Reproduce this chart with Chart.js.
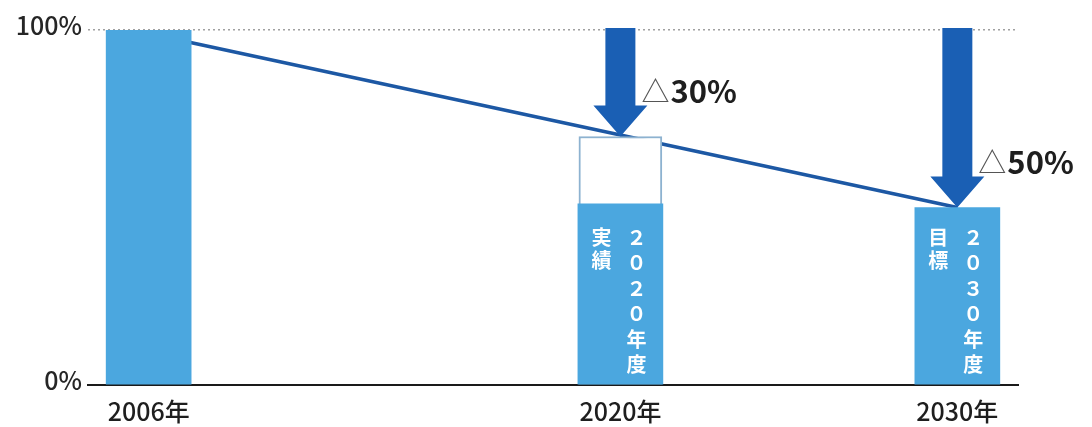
<!DOCTYPE html>
<html lang="ja">
<head>
<meta charset="utf-8">
<title>温室効果ガス削減目標</title>
<script src="https://cdn.jsdelivr.net/npm/chart.js@4.4.1/dist/chart.umd.min.js"></script>
<style>
  html, body { margin: 0; padding: 0; background: #ffffff; }
  #wrap { width: 1092px; height: 427px; }
</style>
</head>
<body>
<div id="wrap"><canvas id="chart" width="1092" height="427"></canvas></div>
<script>
// Years shown on the horizontal axis
const years = [2006, 2020, 2030];

// Solid bars: 2006 baseline, 2020 actual result, 2030 target (% of 2006 level)
const filledYears = [2006, 2020, 2030];
const filledValues = [100, 51, 50];

// Outlined bar: 2020 target
const outlineYears = [2020];
const outlineValues = [70];

// Reduction trend line
const trendYears = [2006, 2030];
const trendValues = [99, 50];

// Reduction arrows from the 100% level down to each target
const reductionYears = [2020, 2030];
const reductionTargets = [70, 50];
const reductionLabels = ['△30%', '△50%'];

// Vertical notes written inside the bars
const noteYears = [2020, 2030];
const noteMain = ['２０２０年度', '２０３０年度'];
const noteSub = ['実績', '目標'];

// Value axis ticks
const yTickValues = [0, 100];

const FONT = "'Noto Sans CJK JP', 'Noto Sans', sans-serif";
const BAR_BLUE = '#4ba7df';
const ARROW_BLUE = '#1a5fb4';

const toPoints = (xs, ys) => xs.map((x, i) => ({ x, y: ys[i] }));

// Draws the downward arrows with their reduction labels
const arrowPlugin = {
  id: 'reductionArrows',
  afterDatasetsDraw(chart) {
    const { ctx, scales: { x, y } } = chart;
    ctx.save();
    reductionYears.forEach((yr, i) => {
      const cx = x.getPixelForValue(yr);
      const top = y.getPixelForValue(100) - 2;
      const tip = y.getPixelForValue(reductionTargets[i]);
      const shaftHalf = 15, headHalf = 27, headLen = 31;
      ctx.fillStyle = ARROW_BLUE;
      ctx.beginPath();
      ctx.moveTo(cx - shaftHalf, top);
      ctx.lineTo(cx + shaftHalf, top);
      ctx.lineTo(cx + shaftHalf, tip - headLen);
      ctx.lineTo(cx + headHalf, tip - headLen);
      ctx.lineTo(cx, tip);
      ctx.lineTo(cx - headHalf, tip - headLen);
      ctx.lineTo(cx - shaftHalf, tip - headLen);
      ctx.closePath();
      ctx.fill();

      // label: thin triangle followed by the bold percentage
      const label = reductionLabels[i];
      const tri = label.charAt(0);
      const rest = label.slice(1);
      const lx = cx + 21;
      const ly = tip - 45;
      ctx.textBaseline = 'middle';
      ctx.textAlign = 'left';
      ctx.font = `400 28px ${FONT}`;
      ctx.fillStyle = '#555555';
      ctx.fillText(tri, lx, ly);
      const tw = ctx.measureText(tri).width;
      ctx.font = `600 31px ${FONT}`;
      ctx.fillStyle = '#1e1e1e';
      ctx.fillText(rest, lx + tw + 1, ly);
    });
    ctx.restore();
  }
};

// Writes the vertical (top-to-bottom) notes inside the bars
const notePlugin = {
  id: 'verticalNotes',
  afterDatasetsDraw(chart) {
    const { ctx, scales: { x, y } } = chart;
    ctx.save();
    ctx.fillStyle = '#ffffff';
    ctx.textAlign = 'center';
    ctx.textBaseline = 'top';
    ctx.font = `700 20px ${FONT}`;
    noteYears.forEach((yr, i) => {
      const cx = x.getPixelForValue(yr);
      const startY = y.getPixelForValue(0) - 158;
      Array.from(noteMain[i]).forEach((ch, k) => {
        ctx.fillText(ch, cx + 16, startY + k * 25.5);
      });
      Array.from(noteSub[i]).forEach((ch, k) => {
        ctx.fillText(ch, cx - 19, startY + k * 23);
      });
    });
    ctx.restore();
  }
};

new Chart(document.getElementById('chart'), {
  type: 'bar',
  data: {
    datasets: [
      {
        type: 'line',
        label: '削減トレンド',
        data: toPoints(trendYears, trendValues),
        borderColor: '#1d58a4',
        borderWidth: 3.5,
        pointRadius: 0,
        order: 10
      },
      {
        label: '目標',
        data: toPoints(outlineYears, outlineValues),
        backgroundColor: '#ffffff',
        borderColor: '#8db2d0',
        borderWidth: 2,
        borderSkipped: false,
        barThickness: 83,
        grouped: false,
        order: 5
      },
      {
        label: '排出量',
        data: toPoints(filledYears, filledValues),
        backgroundColor: BAR_BLUE,
        barThickness: 85,
        grouped: false,
        order: 1
      }
    ]
  },
  options: {
    responsive: false,
    animation: false,
    layout: { padding: { top: 30, right: 74, bottom: 0, left: 0 } },
    plugins: { legend: { display: false }, tooltip: { enabled: false } },
    scales: {
      x: {
        type: 'linear',
        min: 2004.2,
        max: 2031.8,
        offset: false,
        afterBuildTicks: (s) => { s.ticks = years.map(v => ({ value: v })); },
        afterFit: (s) => { s.height = 42; },
        ticks: {
          callback: (v) => v + '年',
          color: '#1e1e1e',
          font: { family: FONT, size: 25, weight: 500 },
          padding: 11,
          autoSkip: false,
          maxRotation: 0
        },
        grid: { display: false, drawTicks: false },
        border: { display: true, color: '#1a1a1a', width: 2 }
      },
      y: {
        min: 0,
        max: 100,
        afterBuildTicks: (s) => { s.ticks = yTickValues.map(v => ({ value: v })); },
        afterFit: (s) => { s.width = 88; },
        ticks: {
          callback: (v) => v + '%',
          color: '#262626',
          font: { family: FONT, size: 25, weight: 500 },
          padding: 6,
          labelOffset: -5
        },
        grid: {
          drawTicks: false,
          lineWidth: 1.5,
          color: (c) => (c.tick && c.tick.value === 100 ? '#a0a0a0' : 'rgba(0,0,0,0)')
        },
        border: { display: false, dash: [2, 3] }
      }
    }
  },
  plugins: [notePlugin, arrowPlugin]
});
</script>
</body>
</html>
